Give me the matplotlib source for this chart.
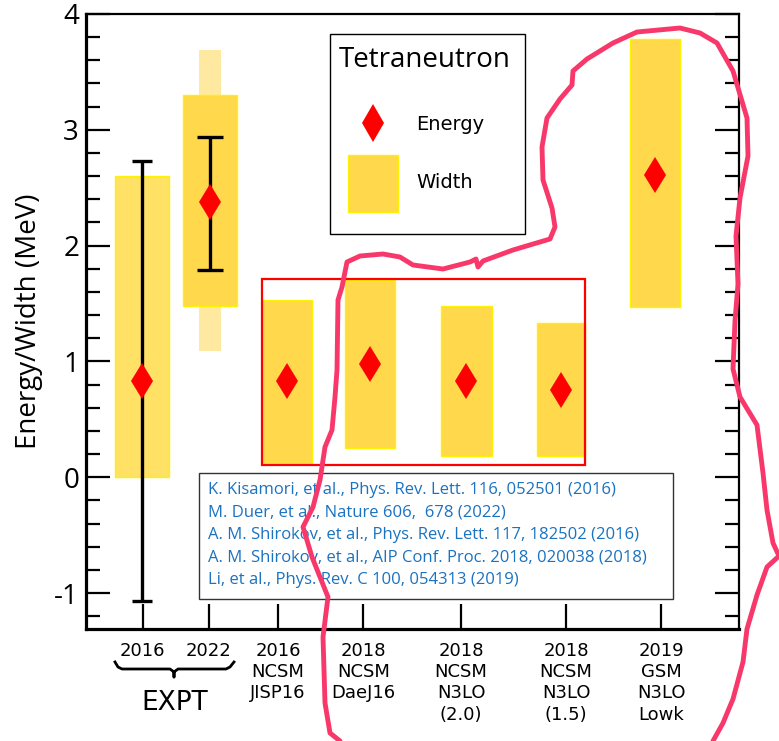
import numpy as np
import matplotlib.pyplot as plt
from matplotlib.patches import Rectangle
from matplotlib.lines import Line2D

plt.rcParams.update({
    "font.family": "Open Sans",
    "axes.unicode_minus": False,
})

# -----------------------------
# Data
# -----------------------------
labels = ["2016", "2022",
          "2016\nNCSM\nJISP16", "2018\nNCSM\nDaeJ16",
          "2018\nNCSM\nN3LO\n(2.0)", "2018\nNCSM\nN3LO\n(1.5)",
          "2019\nGSM\nN3LO\nLowk"]
energy = [0.83, 2.38, 0.83, 0.98, 0.83, 0.75, 2.61]
width_lo = [0.00, 1.48, 0.12, 0.25, 0.18, 0.18, 1.47]
width_hi = [2.60, 3.30, 1.53, 1.70, 1.48, 1.33, 3.78]
# outer width range of the 2022 measurement
width_ext_lo = [1.09]
width_ext_hi = [3.69]
# energy error bars of the two experiments
err_lo = [-1.07, 1.79]
err_hi = [2.73, 2.94]

refs = [
    "K. Kisamori, et al., Phys. Rev. Lett. 116, 052501 (2016)",
    "M. Duer, et al., Nature 606,  678 (2022)",
    "A. M. Shirokov, et al., Phys. Rev. Lett. 117, 182502 (2016)",
    "A. M. Shirokov, et al., AIP Conf. Proc. 2018, 020038 (2018)",
    "Li, et al., Phys. Rev. C 100, 054313 (2019)",
]

# -----------------------------
# Layout
# -----------------------------
tick_x = [0.86, 1.86, 2.91, 4.20, 5.68, 7.27, 8.71]
bar_x = [0.85, 1.88, 3.05, 4.30, 5.76, 7.20, 8.62]
bar_w = [0.82, 0.82, 0.76, 0.76, 0.77, 0.73, 0.76]
bar_c = ["#FFE166", "#FFD84C", "#FFD84C", "#FFD84C", "#FFD84C", "#FFD84C", "#FFD84C"]
GOLD = "#FFD84C"
EDGE = "#FFF200"

W, H = 779, 741


def fpt(px, py):
    return px / W, 1 - py / H


fig = plt.figure(figsize=(W / 100, H / 100), dpi=100)
ax = fig.add_axes([86 / W, 1 - 629 / H, 653 / W, 615 / H])

lo = np.array(width_lo)
hi = np.array(width_hi)

# ---- widths ----
ax.bar(bar_x[1], width_ext_hi[0] - width_ext_lo[0], bottom=width_ext_lo[0],
       width=0.33, color="#FFE9A0", zorder=1)
ax.bar(bar_x, hi - lo, bottom=lo, width=bar_w, color=bar_c,
       edgecolor=EDGE, linewidth=1, zorder=2)

# ---- error bars ----
for i, cap in zip(range(2), [7, 9.5]):
    ax.errorbar(bar_x[i], energy[i],
                yerr=[[energy[i] - err_lo[i]], [err_hi[i] - energy[i]]],
                fmt="none", ecolor="black", elinewidth=2.4,
                capsize=cap, capthick=2.4, zorder=3)

# ---- energies ----
ax.plot(bar_x, energy, linestyle="none", marker="d", color="red",
        markersize=18, markeredgewidth=0, zorder=4)

# ---- red frame around the NCSM results ----
x0 = bar_x[2] - bar_w[2] / 2
x1 = bar_x[5] + bar_w[5] / 2
y0 = lo[2:6].min() - 0.01
y1 = hi[2:6].max() + 0.01
ax.add_patch(Rectangle((x0, y0), x1 - x0, y1 - y0, fill=False,
                       edgecolor="red", linewidth=1.6, zorder=5))

# ---- axes ----
ax.set_xlim(0, 9.89)
ax.set_ylim(-1.31, 4.0)
ax.set_yticks(range(-1, 5))
ax.set_yticks(np.arange(-1.2, 3.9, 0.2), minor=True)
ax.set_xticks(tick_x)
ax.set_xticklabels(labels)
ax.tick_params(axis="y", which="major", direction="in", length=17, width=1.6,
               right=True, labelsize=20, pad=5)
ax.tick_params(axis="y", which="minor", direction="in", length=10, width=1.6,
               right=True)
ax.tick_params(axis="x", direction="in", length=18, width=1.6, pad=9)
for t in ax.get_xticklabels():
    t.set_fontfamily("DejaVu Sans")
    t.set_fontsize(13)
    t.set_linespacing(1.25)
for side, lw in [("left", 2.3), ("bottom", 2.3), ("top", 1.6), ("right", 1.6)]:
    ax.spines[side].set_linewidth(lw)

ax.set_ylabel("Energy/Width (MeV)", fontsize=20)
ax.yaxis.set_label_coords(-0.066, 0.5)

# ---- EXPT brace ----
bx = [115, 118, 122, 170, 174, 174, 174, 178, 226, 230, 234]
by = [662, 667, 669, 669, 672, 677, 672, 669, 669, 667, 662]
pts = [fpt(a, b) for a, b in zip(bx, by)]
fig.add_artist(Line2D([p[0] for p in pts], [p[1] for p in pts],
                      transform=fig.transFigure, color="black", linewidth=2,
                      solid_joinstyle="round"))
fig.text(*fpt(175, 703), "EXPT", fontsize=19, family="DejaVu Sans",
         ha="center", va="center")

# ---- legend box ----
fig.add_artist(Rectangle(fpt(330, 234), 195 / W, 200 / H,
                         transform=fig.transFigure, facecolor="white",
                         edgecolor="black", linewidth=1, zorder=6))
fig.text(*fpt(339, 60), "Tetraneutron", fontsize=20, ha="left", va="center",
         zorder=7)
fig.add_artist(Line2D([373 / W], [1 - 123 / H], transform=fig.transFigure,
                      marker="d", color="red", markersize=19,
                      markeredgewidth=0, zorder=7))
fig.text(*fpt(416, 125), "Energy", fontsize=14, family="DejaVu Sans",
         ha="left", va="center", zorder=7)
fig.add_artist(Rectangle(fpt(348, 212), 50 / W, 57 / H,
                         transform=fig.transFigure, facecolor=GOLD,
                         edgecolor=EDGE, linewidth=1, zorder=7))
fig.text(*fpt(416, 183), "Width", fontsize=14, family="DejaVu Sans",
         ha="left", va="center", zorder=7)

# ---- references box ----
fig.add_artist(Rectangle(fpt(199, 599), 474 / W, 126 / H,
                         transform=fig.transFigure, facecolor="white",
                         edgecolor="#333333", linewidth=1, zorder=6))
for i, r in enumerate(refs):
    fig.text(*fpt(208, 490 + 22.5 * i), r, fontsize=12, color="#1A72C0",
             ha="left", va="center", zorder=7)

# ---- hand-drawn highlight ----
hx = [340, 330, 325, 323, 328, 320, 312, 303, 313, 320, 325, 332, 335, 337,
      338, 342, 347, 360, 383, 400, 413, 443, 470, 476, 478, 483, 513, 550,
      555, 552, 543, 542, 547, 560, 572, 573, 587, 613, 637, 680, 700, 717,
      733, 747, 748, 740, 736, 738, 735, 733, 740, 757, 763, 767, 773, 779,
      767, 757, 747, 743, 733, 723, 713]
hy = [741, 733, 703, 637, 597, 577, 557, 527, 507, 480, 447, 430, 397, 370,
      300, 287, 262, 256, 254, 257, 265, 269, 262, 259, 267, 261, 250, 239,
      227, 208, 180, 147, 118, 99, 85, 71, 59, 43, 32, 28, 33, 43,
      71, 118, 156, 198, 236, 284, 321, 369, 397, 425, 473, 510, 543, 556,
      567, 595, 629, 662, 699, 723, 741]
pts = [fpt(a, b) for a, b in zip(hx, hy)]
fig.add_artist(Line2D([p[0] for p in pts], [p[1] for p in pts],
                      transform=fig.transFigure, color="#F8386A",
                      linewidth=3.5, solid_joinstyle="round",
                      solid_capstyle="round", zorder=20))

fig.savefig("out.png", dpi=100)
